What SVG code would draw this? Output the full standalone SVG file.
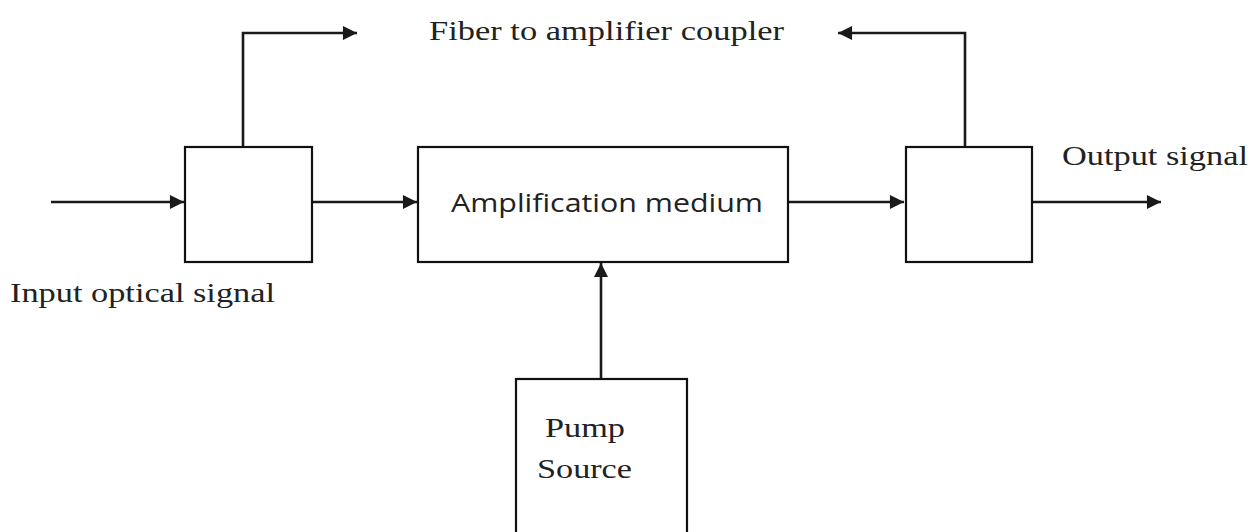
<svg xmlns="http://www.w3.org/2000/svg" width="1260" height="532" viewBox="0 0 1260 532">
<style>
.box{fill:#fff;stroke:#111;stroke-width:2.2}
.ln{fill:none;stroke:#1a1a1a;stroke-width:2.6;marker-end:url(#ah)}
.serif{font-family:"Liberation Serif","DejaVu Serif",serif;font-size:28px;fill:#222}
.sans{font-family:"Open Sans","Liberation Sans",sans-serif;font-size:26px;fill:#222}
</style>
<defs>
<marker id="ah" viewBox="0 0 10 10" refX="10" refY="5" markerWidth="6.2" markerHeight="5.4" markerUnits="strokeWidth" orient="auto">
<path d="M0,0 L10,5 L0,10 z" fill="#1a1a1a"/>
</marker>
</defs>
<rect width="1260" height="532" fill="#fff"/>
<g id="connectors">
<line class="ln" x1="51" y1="202" x2="184" y2="202"/>
<line class="ln" x1="312" y1="202" x2="417" y2="202"/>
<line class="ln" x1="788" y1="202" x2="904" y2="202"/>
<line class="ln" x1="1032" y1="202" x2="1161" y2="202"/>
<polyline class="ln" points="243,147 243,33 357,33"/>
<polyline class="ln" points="965,147 965,33 838,33"/>
<line class="ln" x1="601" y1="379" x2="601" y2="263"/>
</g>
<g id="coupler-in">
<rect class="box" x="185" y="147" width="127" height="115"/>
</g>
<g id="amplifier">
<rect class="box" x="418" y="147" width="370" height="115"/>
<text class="sans" x="451" y="212" textLength="312" lengthAdjust="spacingAndGlyphs">Amplification medium</text>
</g>
<g id="coupler-out">
<rect class="box" x="906" y="147" width="126" height="115"/>
</g>
<g id="pump">
<rect class="box" x="516" y="379" width="171" height="160"/>
<text class="serif" x="545" y="437" textLength="80" lengthAdjust="spacingAndGlyphs">Pump</text>
<text class="serif" x="537" y="478" textLength="95" lengthAdjust="spacingAndGlyphs">Source</text>
</g>
<g id="labels">
<text class="serif" x="429" y="40" textLength="355" lengthAdjust="spacingAndGlyphs">Fiber to amplifier coupler</text>
<text class="serif" x="1062" y="165" textLength="186" lengthAdjust="spacingAndGlyphs">Output signal</text>
<text class="serif" x="10" y="302" textLength="265" lengthAdjust="spacingAndGlyphs">Input optical signal</text>
</g>
</svg>
